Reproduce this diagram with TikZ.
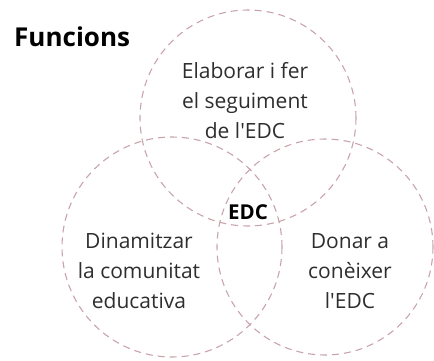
\documentclass[tikz,border=0pt]{standalone}
\usepackage{fontspec}
\setmainfont{Open Sans}
\begin{document}
\begin{tikzpicture}[x=1pt,y=1pt,
  venn/.style={draw=dashcol, line width=1.1pt, dash pattern=on 7pt off 5pt},
  label/.style={align=center, font=\fontsize{21}{30}\selectfont, text=textcol, inner sep=0pt},
  title/.style={font=\fontsize{26}{28}\selectfont\bfseries, text=black, inner sep=0pt, anchor=west}
]
\definecolor{dashcol}{HTML}{C8A4AA}
\definecolor{textcol}{HTML}{2E2E2E}
\useasboundingbox (0,0) rectangle (434,360);
\path[venn] (248,242) circle[radius=108];
\path[venn] (172,113) circle[radius=110];
\path[venn] (325,113) circle[radius=108];
\node[title] (t) at (14,323) {Funcions};
\node[label] (a) at (245,259) {Elaborar i fer\\el seguiment\\de l\textquotesingle EDC};
\node[label] (b) at (139,89) {Dinamitzar\\la comunitat\\educativa};
\node[label] (c) at (350,89) {Donar a\\conèixer\\l\textquotesingle EDC};
\node[font=\fontsize{20.5}{22}\selectfont\bfseries, inner sep=0pt] (e) at (248,148) {EDC};
\end{tikzpicture}
\end{document}
